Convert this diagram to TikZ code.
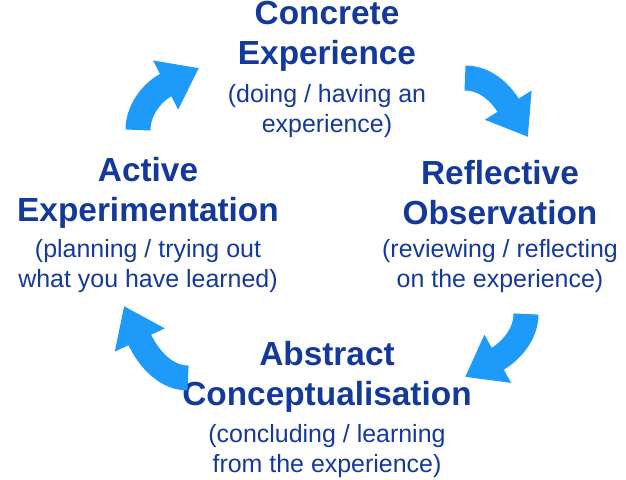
\documentclass[tikz,border=0pt]{standalone}
\usepackage{fontspec}
\setmainfont{Liberation Sans}
\usetikzlibrary{arrows.meta}
\definecolor{navy}{HTML}{14399C}
\definecolor{arr}{HTML}{1E9BFA}
\begin{document}
\begin{tikzpicture}[x=0.02cm,y=-0.02cm,
  ttl/.style={text=navy,align=center,font=\fontsize{19}{22.7}\selectfont\bfseries,inner sep=0},
  sub/.style={text=navy,align=center,font=\fontsize{14.2}{17}\selectfont,inner sep=0},
  cyc/.style={draw=arr,line width=0.5cm,-{Triangle[length=0.75cm,width=1.05cm]}}]
\useasboundingbox (0,0) rectangle (626,480);
\node[ttl] (ct) at (327,36) {Concrete\\Experience};
\node[sub] (cs) at (327,111) {(doing / having an\\experience)};
\node[ttl] (rt) at (500,193) {Reflective\\Observation};
\node[sub] (rs) at (500,266) {(reviewing / reflecting\\on the experience)};
\node[ttl] (at) at (327,377) {Abstract\\Conceptualisation};
\node[sub] (as) at (327,451) {(concluding / learning\\from the experience)};
\node[ttl] (et) at (148,193) {Active\\Experimentation};
\node[sub] (es) at (148,266) {(planning / trying out\\what you have learned)};
\coordinate (a1s) at (465,78); \coordinate (a1e) at (528,137);
\coordinate (a2s) at (526,314); \coordinate (a2e) at (465,377);
\coordinate (a3s) at (188,378); \coordinate (a3e) at (124,306);
\coordinate (a4s) at (138,130); \coordinate (a4e) at (199,68);
\draw[cyc] (a1s) .. controls (485,78) and (500,92) .. (a1e);
\draw[cyc] (a2s) .. controls (526,335) and (510,352) .. (a2e);
\draw[cyc] (a3s) .. controls (168,378) and (150,362) .. (a3e);
\draw[cyc] (a4s) .. controls (138,110) and (152,92) .. (a4e);
\end{tikzpicture}
\end{document}
